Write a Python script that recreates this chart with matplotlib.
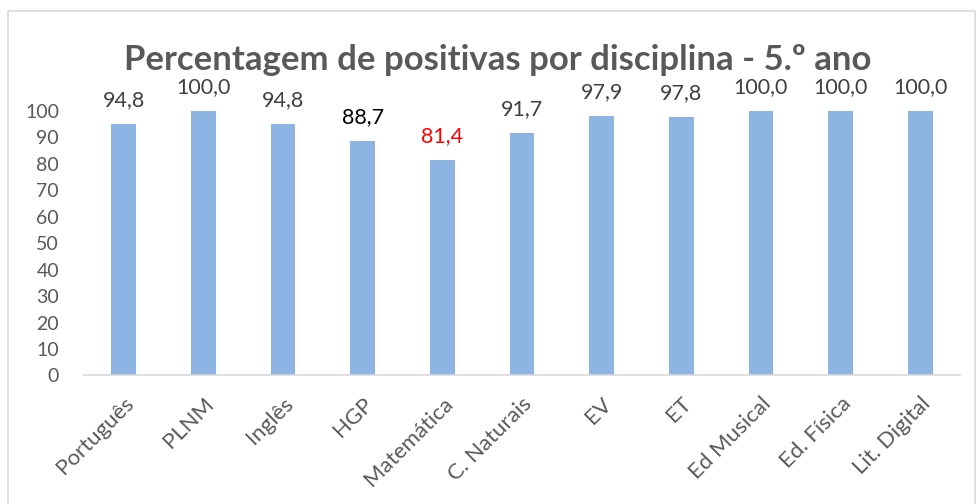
import matplotlib.pyplot as plt
from matplotlib.patches import Rectangle

# data
disciplinas = ["Português", "PLNM", "Inglês", "HGP", "Matemática", "C. Naturais",
               "EV", "ET", "Ed Musical", "Ed. Física", "Lit. Digital"]
positivas = [94.8, 100.0, 94.8, 88.7, 81.4, 91.7, 97.9, 97.8, 100.0, 100.0, 100.0]
label_cores = ["#404040", "#404040", "#404040", "black", "red", "#404040",
               "#404040", "#404040", "#404040", "#404040", "#404040"]

plt.rcParams['font.family'] = ['Lato', 'DejaVu Sans']

fig = plt.figure(figsize=(9.78, 5.04), dpi=100)
ax = fig.add_axes([0.0859, 0.255, 0.8957, 0.5254])

x = range(len(disciplinas))
bars = ax.bar(x, positivas, width=0.31, color="#8EB4E3", zorder=2)

for i, b in enumerate(bars):
    ax.annotate(f"{positivas[i]:.1f}".replace(".", ","),
                (b.get_x() + b.get_width() / 2, b.get_height()),
                xytext=(0, 10), textcoords="offset points",
                ha="center", va="bottom", fontsize=15.5,
                color=label_cores[i], annotation_clip=False)

ax.set_xlim(-0.5, len(disciplinas) - 0.5)
ax.set_ylim(0, 100)
ax.set_yticks(range(0, 101, 10))
ax.set_xticks(list(x))
ax.set_xticklabels(disciplinas, rotation=45, ha="right", rotation_mode="anchor")
ax.tick_params(axis="both", length=0, labelcolor="#595959")
ax.tick_params(axis="y", pad=18, labelsize=14)
ax.tick_params(axis="x", pad=13, labelsize=16)

for s in ["top", "right", "left"]:
    ax.spines[s].set_visible(False)
ax.spines["bottom"].set_color("#d9d9d9")
ax.spines["bottom"].set_linewidth(1.2)

fig.text(0.509, 0.88, "Percentagem de positivas por disciplina - 5.º ano",
         ha="center", va="center", fontsize=25, fontweight="bold", color="#595959")

# chart border
fig.patches.append(Rectangle((8 / 978, -0.01), 967 / 978, 1 - 11 / 504 + 0.01,
                             transform=fig.transFigure, fill=False,
                             edgecolor="#d9d9d9", linewidth=1.2))

plt.savefig("out.png", dpi=100)
